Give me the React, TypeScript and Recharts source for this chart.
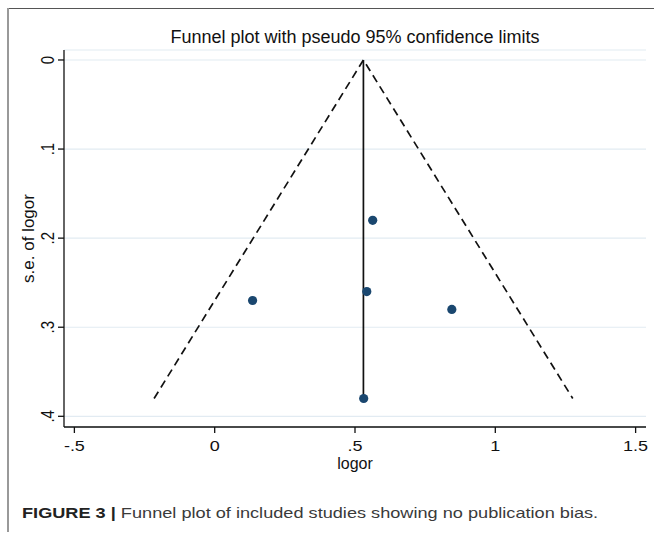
import React from 'react';
import { ScatterChart, Scatter, XAxis, YAxis, CartesianGrid, Label } from 'recharts';

// Study estimates (log odds ratio) and their standard errors
const studyLogOR = [0.135, 0.563, 0.542, 0.845, 0.531];
const studySE = [0.27, 0.18, 0.26, 0.28, 0.38];

// Pseudo 95% confidence limits (lower end, apex, upper end)
const funnelLogOR = [-0.216, 0.53, 1.276];
const funnelSE = [0.38, 0, 0.38];

// Pooled estimate line
const pooledLogOR = [0.53, 0.53];
const pooledSE = [0, 0.38];

const xTicks = [-0.5, 0, 0.5, 1, 1.5];
const xTickLabels = ['-.5', '0', '.5', '1', '1.5'];
const yTicks = [0, 0.1, 0.2, 0.3, 0.4];
const yTickLabels = ['0', '.1', '.2', '.3', '.4'];

const titleText = 'Funnel plot with pseudo 95% confidence limits';
const xLabel = 'logor';
const yLabel = 's.e. of logor';
const captionBold = 'FIGURE 3 |';
const captionText = ' Funnel plot of included studies showing no publication bias.';

const points = studyLogOR.map((x, i) => ({ x, y: studySE[i] }));
const funnel = funnelLogOR.map((x, i) => ({ x, y: funnelSE[i] }));
const pooled = pooledLogOR.map((x, i) => ({ x, y: pooledSE[i] }));

const FONT = '"Liberation Sans", Arial, sans-serif';
const STRETCH = 1.2;

const XTick = (props: any) => {
  const { x, y, payload } = props;
  const idx = xTicks.indexOf(payload.value);
  return (
    <text
      x={0}
      y={0}
      transform={`translate(${x}, ${y + 11}) scale(${STRETCH}, 1)`}
      textAnchor="middle"
      dominantBaseline="central"
      fontSize={15}
      fill="#111"
      fontFamily={FONT}
    >
      {idx >= 0 ? xTickLabels[idx] : payload.value}
    </text>
  );
};

const YTick = (props: any) => {
  const { x, y, payload } = props;
  const idx = yTicks.indexOf(payload.value);
  const tx = x - 8;
  return (
    <text
      x={0}
      y={0}
      transform={`translate(${tx}, ${y}) scale(${STRETCH}, 1) rotate(-90)`}
      textAnchor="middle"
      dominantBaseline="central"
      fontSize={15}
      fill="#111"
      fontFamily={FONT}
    >
      {idx >= 0 ? yTickLabels[idx] : payload.value}
    </text>
  );
};

export default function App() {
  return (
    <div style={{ position: 'absolute', left: 0, top: 0, width: 654, height: 536, background: '#fff', fontFamily: FONT }}>
      <div style={{ position: 'absolute', left: 7, top: 8, width: 647, height: 0, borderTop: '1.5px solid #555' }} />
      <div style={{ position: 'absolute', left: 7, top: 8, width: 0, height: 524, borderLeft: '2px solid #999' }} />
      <div style={{ position: 'absolute', left: 64, width: 582, top: 26, textAlign: 'center', fontSize: 18, color: '#111', lineHeight: '22px' }}>
        {titleText}
      </div>
      <div style={{ position: 'absolute', left: 0, top: 0 }}>
        <ScatterChart width={654} height={536} margin={{ top: 50, right: 8, bottom: 69, left: 8 }}>
          <CartesianGrid horizontal vertical={false} stroke="#e2ebf2" strokeWidth={1.2} />
          <XAxis
            type="number"
            dataKey="x"
            domain={[-0.537, 1.537]}
            ticks={xTicks}
            allowDataOverflow
            height={40}
            tickSize={6}
            tickMargin={2}
            stroke="#111"
            axisLine={{ stroke: '#111', strokeWidth: 1.3 }}
            tickLine={{ stroke: '#111', strokeWidth: 1.3 }}
            tick={<XTick />}
          >
            <Label
              content={(p: any) => {
                const vb = p.viewBox || {};
                return (
                  <text x={vb.x + vb.width / 2} y={vb.y + 36} textAnchor="middle" dominantBaseline="central" fontSize={16} fill="#111" fontFamily={FONT}>
                    {xLabel}
                  </text>
                );
              }}
            />
          </XAxis>
          <YAxis
            type="number"
            dataKey="y"
            domain={[-0.0112, 0.412]}
            reversed
            ticks={yTicks}
            allowDataOverflow
            width={56}
            tickSize={6}
            tickMargin={2}
            stroke="#111"
            axisLine={{ stroke: '#111', strokeWidth: 1.3 }}
            tickLine={{ stroke: '#111', strokeWidth: 1.3 }}
            tick={<YTick />}
          >
            <Label
              content={(p: any) => {
                const vb = p.viewBox || {};
                const tx = vb.x + vb.width - 36;
                const ty = vb.y + vb.height / 2;
                return (
                  <text x={tx} y={ty} textAnchor="middle" dominantBaseline="central" fontSize={17} fill="#111" fontFamily={FONT} transform={`rotate(-90, ${tx}, ${ty})`}>
                    {yLabel}
                  </text>
                );
              }}
            />
          </YAxis>
          <Scatter
            data={funnel}
            line={{ stroke: '#111', strokeWidth: 1.7, strokeDasharray: '8 5' }}
            shape={() => <g />}
            isAnimationActive={false}
          />
          <Scatter
            data={pooled}
            line={{ stroke: '#111', strokeWidth: 1.7 }}
            shape={() => <g />}
            isAnimationActive={false}
          />
          <Scatter
            data={points}
            shape={(p: any) => <circle cx={p.cx} cy={p.cy} r={4.6} fill="#1a476f" />}
            isAnimationActive={false}
          />
        </ScatterChart>
      </div>
      <div
        style={{
          position: 'absolute',
          left: 22,
          top: 503,
          fontSize: 15,
          color: '#3a3a3a',
          lineHeight: '20px',
          whiteSpace: 'nowrap',
          transform: 'scaleX(1.21)',
          transformOrigin: '0 0',
        }}
      >
        <span style={{ fontWeight: 'bold', color: '#222' }}>{captionBold}</span>
        {captionText}
      </div>
    </div>
  );
}
